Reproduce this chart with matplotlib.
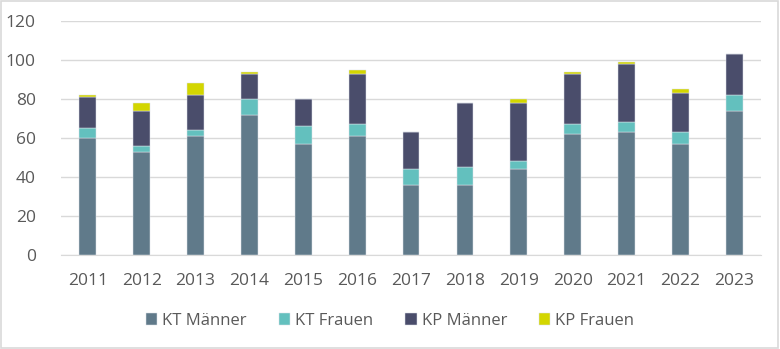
import matplotlib
matplotlib.use("Agg")
import matplotlib.pyplot as plt
from matplotlib.patches import Rectangle
import numpy as np

plt.rcParams['font.family'] = ['Open Sans', 'DejaVu Sans']

years = ["2011", "2012", "2013", "2014", "2015", "2016", "2017",
         "2018", "2019", "2020", "2021", "2022", "2023"]
kt_maenner = [60, 53, 61, 72, 57, 61, 36, 36, 44, 62, 63, 57, 74]
kt_frauen = [5, 3, 3, 8, 9, 6, 8, 9, 4, 5, 5, 6, 8]
kp_maenner = [16, 18, 18, 13, 14, 26, 19, 33, 30, 26, 30, 20, 21]
kp_frauen = [1, 4, 6, 1, 0, 2, 0, 0, 2, 1, 1, 2, 0]

series = [
    ("KT Männer", kt_maenner, "#607a8a"),
    ("KT Frauen", kt_frauen, "#63c0be"),
    ("KP Männer", kp_maenner, "#4a4d6b"),
    ("KP Frauen", kp_frauen, "#d3d600"),
]

fig = plt.figure(figsize=(7.8, 3.49), dpi=100)
ax = fig.add_axes([0.078, 0.269, 0.898, 0.671])

x = np.arange(len(years))
bottom = np.zeros(len(years))
for name, vals, color in series:
    vals = np.array(vals, dtype=float)
    ax.bar(x, vals, width=0.31, bottom=bottom, color=color, label=name,
           edgecolor="#dde1e8", linewidth=0.35, zorder=3)
    bottom += vals

ax.set_xlim(-0.5, len(years) - 0.5)
ax.set_ylim(0, 120)
ax.set_yticks(range(0, 121, 20))
ax.set_xticks(x)
ax.set_xticklabels(years)
ax.yaxis.grid(True, color="#d9d9d9", linewidth=1, zorder=0)
ax.set_axisbelow(True)
for side in ["top", "right", "left"]:
    ax.spines[side].set_visible(False)
ax.spines["bottom"].set_color("#d9d9d9")
ax.tick_params(axis="both", length=0, labelsize=12.5, colors="#595959")
ax.tick_params(axis="x", pad=13)
ax.tick_params(axis="y", pad=18)

leg = fig.legend(loc="center", bbox_to_anchor=(0.5, 0.08), ncol=4, frameon=False,
                 fontsize=12, handlelength=0.7, handleheight=0.7,
                 handletextpad=0.3, columnspacing=1.9)
for t in leg.get_texts():
    t.set_color("#595959")

fig.patches.append(Rectangle((0.001, 0.002), 0.997, 0.996, transform=fig.transFigure,
                             fill=False, edgecolor="#d9d9d9", linewidth=1.2))

fig.savefig("out.png", dpi=100)
